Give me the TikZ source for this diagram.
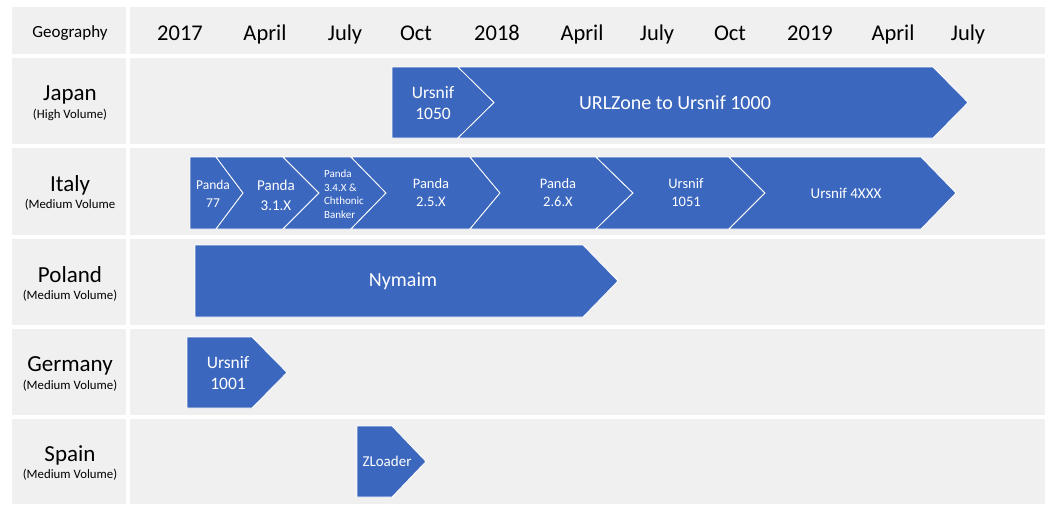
\documentclass[tikz,border=0pt]{standalone}
\usepackage{fontspec}
\setmainfont{Carlito}
\definecolor{cellgrey}{RGB}{240,240,240}
\definecolor{chevblue}{RGB}{59,103,190}
\newcommand\mychev[7]{\filldraw[chevshape] (#1,#5) -- (#3,#5) -- (#4,#7) -- (#3,#6) -- (#1,#6) -- (#2,#7) -- cycle;}
\begin{document}
\begin{tikzpicture}[x=1pt,y=-1pt,
  cell/.style={fill=cellgrey},
  chevshape/.style={fill=chevblue,draw=white,line width=0.8pt,line join=miter},
  hdr/.style={font=\fontsize{22.5}{24}\selectfont,text=black,anchor=base,inner sep=0pt},
  geo/.style={font=\fontsize{17}{18}\selectfont,text=black,inner sep=0pt},
  cname/.style={font=\fontsize{23}{25}\selectfont,text=black,inner sep=0pt},
  vol/.style={font=\fontsize{12.8}{14}\selectfont,text=black,inner sep=0pt},
  wt/.style={text=white,align=center,inner sep=0pt},
]
\useasboundingbox (0,0) rectangle (1056,514);
% cells
\foreach \t/\b in {7/54,58/144,148/235,239/325,329/415,419/504}{
  \fill[cell] (12,\t) rectangle (126,\b);
  \fill[cell] (130,\t) rectangle (1045,\b);
}
% header
\node[geo] (hgeo) at (70,33) {Geography};
\node[hdr] (m1) at (180,40) {2017};
\node[hdr] (m2) at (265,40) {April};
\node[hdr] (m3) at (345,40) {July};
\node[hdr] (m4) at (416,40) {Oct};
\node[hdr] (m5) at (497,40) {2018};
\node[hdr] (m6) at (582,40) {April};
\node[hdr] (m7) at (657,40) {July};
\node[hdr] (m8) at (730,40) {Oct};
\node[hdr] (m9) at (810,40) {2019};
\node[hdr] (m10) at (893,40) {April};
\node[hdr] (m11) at (968,40) {July};
% row labels
\node[cname] (jp) at (70,95) {Japan};
\node[vol] (jpv) at (70,115) {(High Volume)};
\node[cname] (it) at (70,185) {Italy};
\node[vol] (itv) at (70,205) {(Medium Volume};
\node[cname] (pl) at (70,275) {Poland};
\node[vol] (plv) at (70,296) {(Medium Volume)};
\node[cname] (de) at (70,366) {Germany};
\node[vol] (dev) at (70,386) {(Medium Volume)};
\node[cname] (es) at (70,455) {Spain};
\node[vol] (esv) at (70,475) {(Medium Volume)};
% Japan
\mychev{392}{392}{458}{494}{67}{138}{102.5}
\mychev{458}{494}{933}{968}{67}{138}{102.5}
\node[wt,font=\fontsize{17.5}{21}\selectfont] (j1) at (433,103) {Ursnif\\1050};
\node[wt,font=\fontsize{20}{21}\selectfont] (j2) at (675,103) {URLZone to Ursnif 1000};
% Italy
\mychev{190}{190}{216}{243}{157}{229}{193}
\mychev{216}{243}{283}{319}{157}{229}{193}
\mychev{283}{319}{351}{386}{157}{229}{193}
\mychev{351}{386}{470}{500}{157}{229}{193}
\mychev{470}{500}{596}{633}{157}{229}{193}
\mychev{596}{633}{729}{765}{157}{229}{193}
\mychev{729}{765}{921}{956}{157}{229}{193}
\node[wt,font=\fontsize{13.5}{18}\selectfont] (i1) at (213,194) {Panda\\77};
\node[wt,font=\fontsize{15}{20}\selectfont] (i2) at (276,195) {Panda\\3.1.X};
\node[wt,font=\fontsize{11}{13.5}\selectfont,align=left] (i3) at (344,194) {Panda\\3.4.X \&\\Chthonic\\Banker};
\node[wt,font=\fontsize{14.5}{18}\selectfont] (i4) at (431,193) {Panda\\2.5.X};
\node[wt,font=\fontsize{14.5}{18}\selectfont] (i5) at (558,193) {Panda\\2.6.X};
\node[wt,font=\fontsize{14.5}{18}\selectfont] (i6) at (686,193) {Ursnif\\1051};
\node[wt,font=\fontsize{15}{18}\selectfont] (i7) at (846,193) {Ursnif 4XXX};
% Poland
\mychev{195}{195}{583}{618}{245}{317}{281}
\node[wt,font=\fontsize{20}{21}\selectfont] (p1) at (403,281) {Nymaim};
% Germany
\mychev{187}{187}{252}{287}{337}{408}{372.5}
\node[wt,font=\fontsize{17.5}{21}\selectfont] (g1) at (228,373) {Ursnif\\1001};
% Spain
\mychev{357}{357}{392}{426}{426}{497}{461.5}
\node[wt,font=\fontsize{15}{16}\selectfont] (s1) at (387,461.5) {ZLoader};
\end{tikzpicture}
\end{document}
